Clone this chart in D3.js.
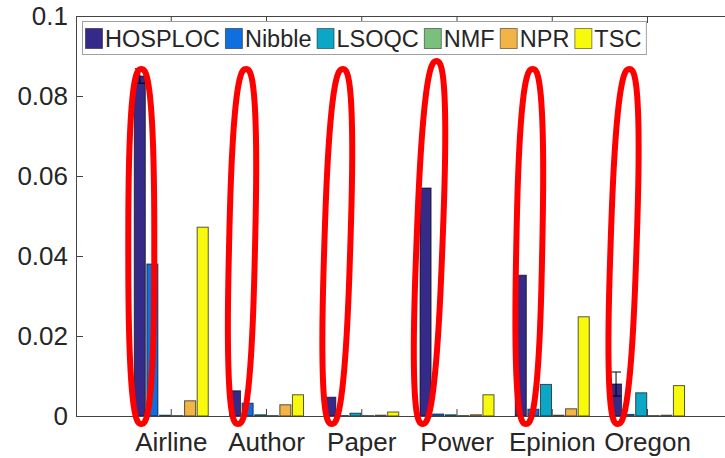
<!DOCTYPE html>
<html>
<head>
<meta charset="utf-8">
<script src="https://cdn.jsdelivr.net/npm/d3@7"></script>
<style>
  body { margin: 0; background: #fff; }
  text { font-family: "Liberation Sans", Arial, sans-serif; fill: #262626; }
</style>
</head>
<body>
<script>
const groups = ["Airline", "Author", "Paper", "Power", "Epinion", "Oregon"];
const methods = ["HOSPLOC", "Nibble", "LSOQC", "NMF", "NPR", "TSC"];
const colors = ["#352a87", "#0f6fdd", "#0ca7c6", "#7abf7c", "#f2b447", "#f9f90e"];

const hosploc = [0.0850, 0.0063, 0.0047, 0.0570, 0.0352, 0.0080];
const nibble  = [0.0380, 0.0032, 0.0001, 0.0005, 0.0017, 0.0004];
const lsoqc   = [0.0002, 0.0003, 0.0007, 0.0003, 0.0079, 0.0058];
const nmf     = [0.0001, 0.0001, 0.0001, 0.0001, 0.0002, 0.0001];
const npr     = [0.0038, 0.0028, 0.0002, 0.0003, 0.0018, 0.0002];
const tsc     = [0.0472, 0.0053, 0.0010, 0.0053, 0.0248, 0.0076];
const hosplocErr = [0.0018, 0, 0, 0, 0, 0.0030];

const yTicks = [0, 0.02, 0.04, 0.06, 0.08, 0.1];

const series = [hosploc, nibble, lsoqc, nmf, npr, tsc];

const width = 725;
const height = 458;
const plotLeft = 76, plotTop = 16, plotBottom = 416;
const unit = 95.25;

const svg = d3.select("body")
  .append("svg")
  .attr("width", width)
  .attr("height", height);

const x0 = d3.scaleBand()
  .domain(groups)
  .range([plotLeft + unit * 0.5, plotLeft + unit * 6.5]);

const x1 = d3.scaleBand()
  .domain(methods)
  .range([-37, 37])
  .paddingInner(0.12);

const y = d3.scaleLinear().domain([0, 0.1]).range([plotBottom, plotTop]);

const color = d3.scaleOrdinal().domain(methods).range(colors);

// bars
const data = [];
groups.forEach((g, gi) => {
  methods.forEach((m, mi) => {
    data.push({ group: g, method: m, value: series[mi][gi] });
  });
});

const gx = g => x0(g) + x0.bandwidth() / 2;

svg.append("g")
  .selectAll("rect")
  .data(data)
  .join("rect")
  .attr("x", d => gx(d.group) + x1(d.method))
  .attr("y", d => y(d.value))
  .attr("width", x1.bandwidth())
  .attr("height", d => plotBottom - y(d.value))
  .attr("fill", d => color(d.method))
  .attr("stroke", "#000")
  .attr("stroke-opacity", 0.65)
  .attr("stroke-width", 1);

// error bars on HOSPLOC
const errData = groups.map((g, i) => ({ group: g, value: hosploc[i], err: hosplocErr[i] }))
  .filter(d => d.err > 0);
const errG = svg.append("g").attr("stroke", "#000").attr("stroke-width", 1);
const bcx = d => gx(d.group) + x1("HOSPLOC") + x1.bandwidth() / 2;
errG.selectAll("line.v").data(errData).join("line")
  .attr("class", "v")
  .attr("x1", bcx).attr("x2", bcx)
  .attr("y1", d => y(d.value + d.err)).attr("y2", d => y(d.value - d.err));
errG.selectAll("line.t").data(errData).join("line")
  .attr("class", "t")
  .attr("x1", d => bcx(d) - 5).attr("x2", d => bcx(d) + 5)
  .attr("y1", d => y(d.value + d.err)).attr("y2", d => y(d.value + d.err));
errG.selectAll("line.b").data(errData).join("line")
  .attr("class", "b")
  .attr("x1", d => bcx(d) - 5).attr("x2", d => bcx(d) + 5)
  .attr("y1", d => y(d.value - d.err)).attr("y2", d => y(d.value - d.err));

// axes
const yAxis = svg.append("g")
  .attr("transform", `translate(${plotLeft},0)`)
  .call(d3.axisLeft(y).tickValues(yTicks).tickSize(-7).tickPadding(8)
    .tickFormat(d => d3.format("~g")(d)));
yAxis.select(".domain").attr("stroke", "#444");
yAxis.selectAll(".tick line").attr("stroke", "#444");
yAxis.selectAll(".tick text").style("font-size", "26px").attr("fill", "#262626");

const xAxis = svg.append("g")
  .attr("transform", `translate(0,${plotBottom})`)
  .call(d3.axisBottom(x0).tickSize(-7).tickSizeOuter(0).tickPadding(17));
xAxis.select(".domain").attr("stroke", "#444").attr("d", `M${plotLeft},0.5H${width}`);
xAxis.selectAll(".tick line").attr("stroke", "#444");
xAxis.selectAll(".tick text").style("font-size", "26px").attr("fill", "#262626");

const topAxis = svg.append("g")
  .attr("transform", `translate(0,${plotTop})`)
  .call(d3.axisTop(x0).tickSize(-7).tickSizeOuter(0).tickFormat(""));
topAxis.select(".domain").attr("stroke", "#444").attr("d", `M${plotLeft},0.5H${width}`);
topAxis.selectAll(".tick line").attr("stroke", "#444");

// legend
const legend = svg.append("g");
const legBox = legend.append("rect")
  .attr("x", 82.5).attr("y", 21.5).attr("height", 33)
  .attr("fill", "#fff").attr("stroke", "#a0a0a0");
let lx = 85;
methods.forEach(m => {
  legend.append("rect")
    .attr("x", lx + 0.5).attr("y", 28.5).attr("width", 17).attr("height", 20)
    .attr("fill", color(m)).attr("stroke", "#000").attr("stroke-opacity", 0.45);
  const t = legend.append("text")
    .attr("x", lx + 20).attr("y", 47)
    .style("font-size", "23.5px")
    .text(m);
  lx += 20 + t.node().getComputedTextLength() + 5;
});
legBox.attr("width", lx - 82.5);

// red ring annotations around HOSPLOC bars (rounded ovals)
const ringShift = [1.5, 7, 7, 4, 8.5, 7.5];
const ringTilt = [0, 1.3, 1.8, 2.2, 1.1, 1.9];
const oval = (a, b, n) => {
  const pts = d3.range(0, 2 * Math.PI, Math.PI / 90).map(t => {
    const c = Math.cos(t), s = Math.sin(t);
    return [a * Math.sign(c) * Math.pow(Math.abs(c), 2 / n),
            b * Math.sign(s) * Math.pow(Math.abs(s), 2 / n)];
  });
  return d3.line().curve(d3.curveLinearClosed)(pts);
};
svg.append("g")
  .selectAll("path")
  .data(groups)
  .join("path")
  .attr("d", g => oval(13, g === "Power" ? 181.5 : 177.5, 2.6))
  .attr("transform", (g, i) => {
    const cx = gx(g) + x1("HOSPLOC") + x1.bandwidth() / 2 + ringShift[i];
    const cy = g === "Power" ? 242.5 : 246.5;
    return `translate(${cx},${cy}) rotate(${ringTilt[i]})`;
  })
  .attr("fill", "none")
  .attr("stroke", "#ff0000")
  .attr("stroke-width", 6);
</script>
</body>
</html>
